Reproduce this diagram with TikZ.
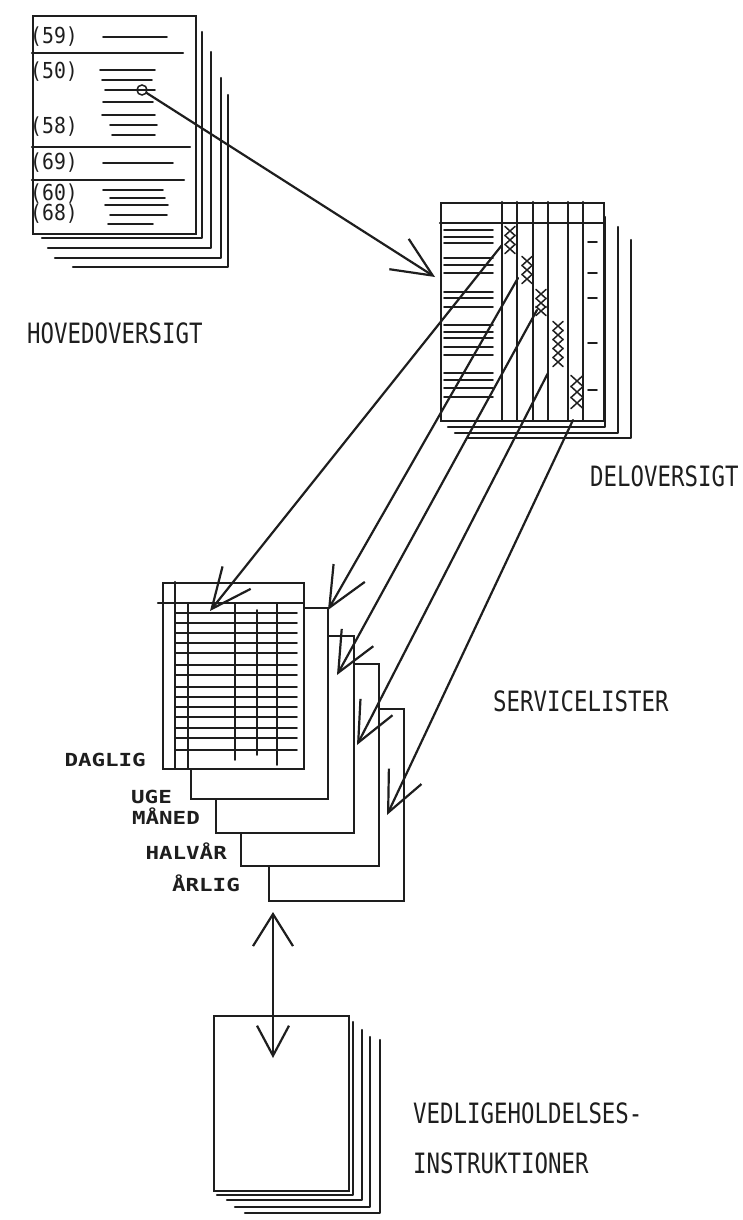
\documentclass[tikz,border=0pt]{standalone}
\usepackage{fontspec}
\usetikzlibrary{arrows.meta,positioning,calc}
\newfontfamily\lblfont[FakeStretch=0.8]{DejaVu Sans Mono}
\newfontfamily\numfont[FakeStretch=0.9]{DejaVu Sans Mono}
\newfontfamily\tagfont[FakeStretch=1.25]{DejaVu Sans Mono}
\definecolor{cInk}{HTML}{1E1E1E}
\tikzset{
  sheet/.style={draw=cInk, fill=white, line width=2.2pt, inner sep=0pt, anchor=north west},
  ink/.style={draw=cInk, line width=2.2pt, line cap=round, line join=round},
  thin/.style={draw=cInk, line width=1.8pt, line cap=round},
  xmark/.style={draw=cInk, line width=1.5pt, line cap=round},
  lbl/.style={font=\lblfont\fontsize{28}{30}\selectfont, text=cInk, inner sep=0pt, anchor=west},
  num/.style={font=\numfont\fontsize{22}{24}\selectfont, text=cInk, inner sep=0pt, anchor=west},
  tag/.style={font=\tagfont\bfseries\fontsize{18}{20}\selectfont, text=cInk, inner sep=0pt, anchor=east},
  barb/.style={ink, -{Straight Barb[length=40pt,width=36pt]}},
  dbl/.style={ink, {Straight Barb[length=32pt,width=40pt]}-{Straight Barb[length=30pt,width=32pt]}},
}

\begin{document}
\begin{tikzpicture}[x=1pt, y=-1pt]
\useasboundingbox (0,0) rectangle (743,1220);
% hovedoversigt
\foreach \rx/\ty/\by/\lx in {202/32/238/42, 211/52/248/48, 221/78/258/55, 228/95/267/73}
  \draw[ink] (\rx,\ty) -- (\rx,\by) -- (\lx,\by);
\node[sheet, minimum width=163pt, minimum height=218pt] (hoved) at (32,15) {};
\foreach \y/\e in {53/183, 147/190, 180/184} \draw[ink] (32,\y) -- (\e,\y);
\node[num] (n59) at (30,37) {(59)};
\node[num] (n50) at (30,72) {(50)};
\node[num] (n58) at (30,127) {(58)};
\node[num] (n69) at (30,163) {(69)};
\node[num] (n60) at (30,194) {(60)};
\node[num] (n68) at (30,214) {(68)};
\foreach \y/\a/\e in {37/103/167, 70/100/155, 80/102/152, 90/105/155, 102/103/153, 115/102/155, 125/110/157, 135/112/155, 163/103/173, 190/103/163, 198/110/165, 205/105/168, 215/110/167, 224/108/153}
  \draw[thin] (\a,\y) -- (\e,\y);
\node[draw=cInk, line width=1.5pt, circle, inner sep=0pt, minimum size=10pt] (pick) at (142,90) {};
\node[lbl] (lhoved) at (27,333) {HOVEDOVERSIGT};
% deloversigt
\foreach \rx/\ty/\by/\lx in {605/217/427/448, 618/227/433/455, 631/240/438/467}
  \draw[ink] (\rx,\ty) -- (\rx,\by) -- (\lx,\by);
\node[sheet, minimum width=163pt, minimum height=218pt] (delo) at (440,202) {};
\draw[ink] (440,223) -- (603,223);
\foreach \x in {502,517,533,548,568,583} \draw[ink] (\x,202) -- (\x,420);
\foreach \y in {230,237,243,258,265,273,292,298,307,325,332,338,347,355,373,380,388,397}
  \draw[thin] (444,\y) -- (493,\y);
\foreach \y in {242,273,298,343,390} \draw[thin] (588,\y) -- (597,\y);
\foreach \x/\y in {510/231, 510/240, 510/249, 527/261, 527/270, 527/279, 541/294, 541/303, 541/311, 558/326, 558/335, 558/344, 558/353, 558/362}
  \draw[xmark] (\x-5,\y-4.5) -- (\x+5,\y+4.5) (\x-5,\y+4.5) -- (\x+5,\y-4.5);
\foreach \x/\y in {577/381, 577/392, 577/403}
  \draw[xmark] (\x-6,\y-5.5) -- (\x+6,\y+5.5) (\x-6,\y+5.5) -- (\x+6,\y-5.5);
\node[lbl] (ldelo) at (590,476) {DELOVERSIGT};
\coordinate (dIn) at (435,277);
\draw[barb] (pick) -- (dIn);
% servicelister
\foreach \n/\x/\y/\w/\h in {arlig/268/708/135/192, halvar/240/663/138/202, maned/215/635/138/197, uge/190/607/137/191, daglig/162/582/141/186}
  \node[sheet, minimum width=\w pt, minimum height=\h pt] (\n) at (\x,\y) {};
\draw[ink] (158,603) -- (303,603);
\draw[ink] (175,582) -- (175,768);
\draw[ink] (188,603) -- (188,768);
\foreach \x/\p/\q in {235/603/760, 257/610/755, 277/603/765} \draw[thin] (\x,\p) -- (\x,\q);
\foreach \y in {613,623,633,643,653,665,675,687,697,707,717,728,738,750} \draw[thin] (175,\y) -- (297,\y);
\node[tag] (tdag) at (146,760) {DAGLIG};
\node[tag] (tuge) at (172,797) {UGE};
\node[tag] (tman) at (200,816) {MÅNED};
\node[tag] (thal) at (227,851) {HALVÅR};
\node[tag] (tarl) at (240,883) {ÅRLIG};
\node[lbl] (lserv) at (493,701) {SERVICELISTER};
\coordinate (sA) at (502,245); \coordinate (tA) at (210,611);
\coordinate (sB) at (518,278); \coordinate (tB) at (328,610);
\coordinate (sC) at (537,310); \coordinate (tC) at (337,675);
\coordinate (sD) at (548,373); \coordinate (tD) at (357,745);
\coordinate (sE) at (573,420); \coordinate (tE) at (387,815);
\foreach \p/\q in {sA/tA, sB/tB, sC/tC, sD/tD, sE/tE} \draw[barb] (\p) -- (\q);
% vedligeholdelsesinstruktioner
\foreach \rx/\ty/\by/\lx in {353/1022/1195/217, 362/1030/1200/227, 370/1037/1207/235, 380/1040/1213/245}
  \draw[ink] (\rx,\ty) -- (\rx,\by) -- (\lx,\by);
\node[sheet, minimum width=135pt, minimum height=175pt] (vedl) at (213,1015) {};
\node[lbl] (lvedl) at (413,1113) {VEDLIGEHOLDELSES-};
\node[lbl] (linstr) at (413,1163) {INSTRUKTIONER};
\coordinate (vUp) at (273,912); \coordinate (vDn) at (273,1058);
\draw[dbl] (vUp) -- (vDn);
\end{tikzpicture}
\end{document}
